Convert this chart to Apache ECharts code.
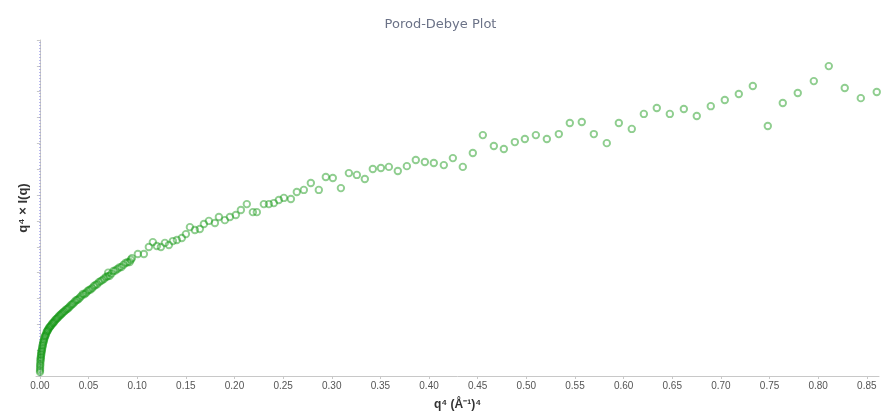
<!DOCTYPE html>
<html>
<head>
<meta charset="utf-8">
<title>Porod-Debye Plot</title>
<script src="https://cdn.jsdelivr.net/npm/echarts@6/dist/echarts.min.js"></script>
<style>
  html, body { margin: 0; padding: 0; background: #ffffff; }
  #chart { width: 881px; height: 419px; }
</style>
</head>
<body>
<div id="chart"></div>
<script>
// q^4 values (Å^-4) and q^4 × I(q) values (arbitrary units)
const q4 = [
  0.0001, 0.0002, 0.0004, 0.0007, 0.0010, 0.0014, 0.0018, 0.0024, 0.0030, 0.0037,
  0.0045, 0.0054, 0.0065, 0.0076, 0.0088, 0.0103, 0.0118, 0.0135, 0.0152, 0.0171,
  0.0190, 0.0211, 0.0232, 0.0255, 0.0279, 0.0303, 0.0329, 0.0356, 0.0383, 0.0412,
  0.0442, 0.0473, 0.0505, 0.0538, 0.0571, 0.0606, 0.0642, 0.0679, 0.0702, 0.0717,
  0.0756, 0.0797, 0.0838, 0.0880, 0.0923,
  0.00015, 0.0003, 0.00055, 0.00085, 0.0012, 0.0016, 0.0021, 0.0027, 0.0033, 0.0041,
  0.0049, 0.0059, 0.0070, 0.0082, 0.0095, 0.0110, 0.0126, 0.0143, 0.0161, 0.0180,
  0.0200, 0.0221, 0.0243, 0.0267, 0.0291, 0.0316, 0.0342, 0.0369, 0.0397, 0.0427,
  0.0457, 0.0489, 0.0521, 0.0554, 0.0588, 0.0624, 0.0660, 0.0698, 0.0736, 0.0776,
  0.0817, 0.0859, 0.0901, 0.0935,
  0.0946, 0.1007, 0.1069, 0.1120, 0.1161, 0.1202, 0.1244, 0.1285, 0.1326, 0.1367,
  0.1408, 0.1459, 0.1501, 0.1542, 0.1593, 0.1644, 0.1686, 0.1737, 0.1799, 0.1840,
  0.1901, 0.1953, 0.2014, 0.2066, 0.2127, 0.2189, 0.2230, 0.2302, 0.2354, 0.2405,
  0.2456, 0.2508, 0.2580, 0.2641, 0.2713, 0.2785, 0.2867, 0.2939, 0.3011, 0.3094,
  0.3176, 0.3258, 0.3340, 0.3422, 0.3505, 0.3587, 0.3679, 0.3772, 0.3864, 0.3957,
  0.4049, 0.4152, 0.4245, 0.4347, 0.4450, 0.4553, 0.4666, 0.4769, 0.4882, 0.4985,
  0.5098, 0.5211, 0.5334, 0.5447, 0.5570, 0.5694, 0.5827, 0.5951, 0.6084, 0.6208,
  0.6341, 0.6475, 0.6619, 0.6752, 0.6896, 0.7040, 0.7184, 0.7328, 0.7482, 0.7636,
  0.7790, 0.7955, 0.8109, 0.8273, 0.8438, 0.8602
];
const q4Iq = [
  0.15, 0.31, 0.46, 0.62, 0.73, 0.85, 0.97, 1.08, 1.20, 1.32,
  1.43, 1.55, 1.64, 1.74, 1.82, 1.90, 1.97, 2.05, 2.13, 2.21,
  2.28, 2.36, 2.44, 2.51, 2.59, 2.67, 2.77, 2.86, 2.94, 3.04,
  3.17, 3.21, 3.33, 3.40, 3.52, 3.63, 3.71, 3.83, 4.00, 3.88,
  4.06, 4.14, 4.22, 4.37, 4.41,
  0.22, 0.40, 0.55, 0.68, 0.80, 0.92, 1.02, 1.15, 1.27, 1.37,
  1.50, 1.58, 1.70, 1.77, 1.87, 1.93, 2.02, 2.08, 2.18, 2.24,
  2.33, 2.40, 2.48, 2.56, 2.62, 2.73, 2.80, 2.92, 2.98, 3.10,
  3.16, 3.28, 3.35, 3.47, 3.55, 3.67, 3.76, 3.86, 3.96, 4.08,
  4.20, 4.30, 4.40, 4.50,
  4.56, 4.72, 4.72, 4.99, 5.18, 5.03, 4.99, 5.15, 5.07, 5.22,
  5.26, 5.34, 5.49, 5.76, 5.65, 5.69, 5.88, 6.00, 5.92, 6.15,
  6.03, 6.15, 6.23, 6.42, 6.65, 6.34, 6.34, 6.65, 6.65, 6.69,
  6.81, 6.89, 6.85, 7.12, 7.20, 7.47, 7.20, 7.70, 7.66, 7.27,
  7.85, 7.78, 7.62, 8.01, 8.05, 8.09, 7.93, 8.12, 8.36, 8.28,
  8.24, 8.16, 8.43, 8.09, 8.63, 9.32, 8.90, 8.78, 9.05, 9.17,
  9.32, 9.17, 9.36, 9.79, 9.83, 9.36, 9.01, 9.79, 9.56, 10.14,
  10.37, 10.14, 10.33, 10.06, 10.44, 10.68, 10.91, 11.22, 9.67, 10.56,
  10.95, 11.41, 11.99, 11.14, 10.75, 10.99
];
// tick positions on the q^4 axis
const xTicks = [0, 0.05, 0.10, 0.15, 0.20, 0.25, 0.30, 0.35, 0.40, 0.45,
                0.50, 0.55, 0.60, 0.65, 0.70, 0.75, 0.80, 0.85];
// vertical reference line at q^4 = 0 spanning the y range
const zeroLineX = 0;
const yRange = [0, 13];

const points = q4.map((x, i) => [x, q4Iq[i]]);

const chart = echarts.init(document.getElementById('chart'), null, { renderer: 'canvas' });

chart.setOption({
  animation: false,
  backgroundColor: '#ffffff',
  title: {
    text: 'Porod-Debye Plot',
    left: 'center',
    top: 13,
    textStyle: {
      fontFamily: 'DejaVu Sans',
      fontSize: 13,
      fontWeight: 'normal',
      color: '#6b7287'
    }
  },
  grid: { left: 36, right: 2, top: 40, bottom: 43, containLabel: false },
  xAxis: {
    type: 'value',
    min: -0.004,
    max: 0.8625,
    name: 'q\u2074 (\u00C5\u207B\u00B9)\u2074',
    nameLocation: 'middle',
    nameGap: 23,
    nameTextStyle: {
      fontFamily: 'Liberation Sans',
      fontSize: 12,
      fontWeight: 'bold',
      color: '#333333'
    },
    axisLine: { show: true, lineStyle: { color: '#c8c8c8', width: 1 } },
    axisTick: {
      show: true,
      length: 3,
      customValues: xTicks,
      lineStyle: { color: '#c8c8c8' }
    },
    axisLabel: {
      customValues: xTicks,
      formatter: v => v.toFixed(2),
      fontFamily: 'Liberation Sans',
      fontSize: 10,
      color: '#555555',
      margin: 5
    },
    splitLine: { show: false }
  },
  yAxis: {
    type: 'value',
    min: yRange[0],
    max: yRange[1],
    interval: 1,
    name: 'q\u2074 \u00D7 I(q)',
    nameLocation: 'middle',
    nameGap: 6,
    nameTextStyle: {
      fontFamily: 'Liberation Sans',
      fontSize: 13,
      fontWeight: 'bold',
      color: '#333333'
    },
    axisLine: { show: true, lineStyle: { color: '#c8c8c8', width: 1 } },
    axisTick: { show: true, length: 3, lineStyle: { color: '#c8c8c8' } },
    axisLabel: { show: false },
    splitLine: { show: false }
  },
  series: [
    {
      type: 'line',
      data: [[zeroLineX, yRange[0]], [zeroLineX, yRange[1]]],
      symbol: 'none',
      silent: true,
      z: 1,
      lineStyle: { color: '#8a8ae6', type: [1, 2], width: 1 }
    },
    {
      type: 'scatter',
      data: points,
      symbol: 'circle',
      symbolSize: 6.5,
      z: 2,
      itemStyle: {
        color: 'rgba(0,0,0,0)',
        borderColor: 'rgba(15,150,15,0.58)',
        borderWidth: 1.9
      }
    }
  ]
});
</script>
</body>
</html>
